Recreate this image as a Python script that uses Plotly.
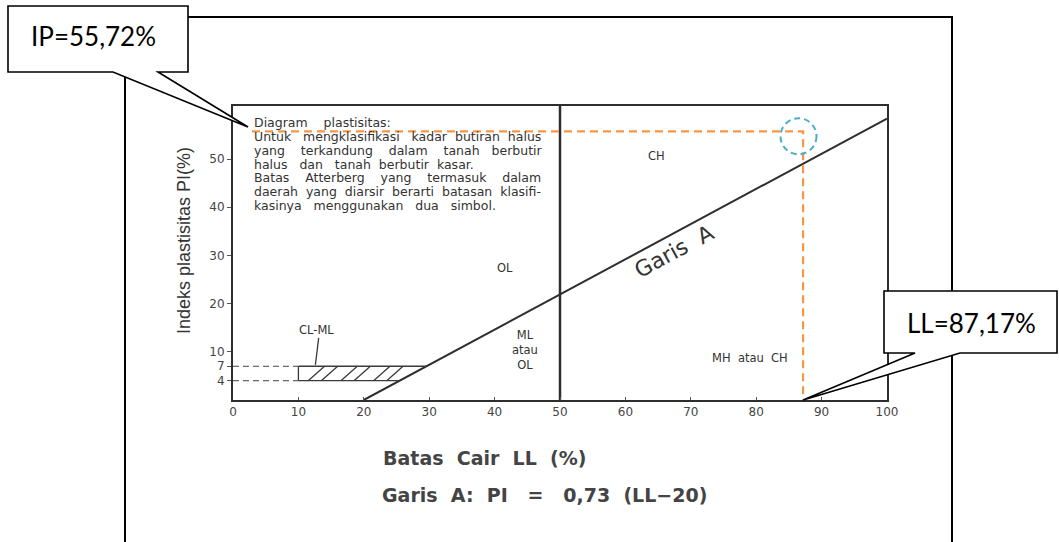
import math
import plotly.graph_objects as go

# ---- chart values -------------------------------------------------------
ll_ticks = [0, 10, 20, 30, 40, 50, 60, 70, 80, 90, 100]
pi_ticks = [4, 7, 10, 20, 30, 40, 50]
ll_range = [0, 100]
pi_range = [0, 61]

a_slope = 0.73          # Garis A: PI = 0,73 (LL - 20)
a_origin = 20
ll_split = 50           # boundary between low and high liquid limit

ip_value = 55.72        # measured plasticity index
ll_value = 87.17        # measured liquid limit

cl_ml_pi = [4, 7]       # CL-ML band
cl_ml_ll_start = 10
hatch_ll = [11.5, 13.5, 16.5, 18.5, 21.5, 23.5]

zone_text = ["OL", "CH", "ML<br>atau<br>OL", "MH\u00a0\u00a0atau\u00a0\u00a0CH", "CL-ML"]
zone_ll = [41.6, 64.7, 44.6, 79.0, 12.8]
zone_pi = [27.4, 50.6, 10.4, 8.7, 14.5]

note_lines = [
    "Diagram plastisitas:",
    "Untuk mengklasifikasi kadar butiran halus",
    "yang terkandung dalam tanah berbutir",
    "halus dan tanah berbutir kasar.",
    "Batas Atterberg yang termasuk dalam",
    "daerah yang diarsir berarti batasan klasifi-",
    "kasinya menggunakan dua simbol.",
]
note_widths = [136, 288, 288, 223, 288, 288, 243]

# ---- page geometry ------------------------------------------------------
W, H = 1059, 542
L, R, T, B = 233, 887, 106, 400   # plot area in pixels


def px(x):
    return (x - L) / (R - L)


def py(y):
    return (B - y) / (B - T)


def a_line(ll):
    return a_slope * (ll - a_origin)


# DejaVu Sans advance widths (em) used to space the justified note text
DV = {' ': .318, 'a': .613, 'b': .635, 'c': .550, 'd': .635, 'e': .615, 'f': .352,
      'g': .635, 'h': .634, 'i': .278, 'j': .278, 'k': .579, 'l': .278, 'm': .974,
      'n': .634, 'o': .612, 'p': .635, 'r': .411, 's': .521, 't': .392, 'u': .634,
      'v': .592, 'w': .818, 'y': .592, 'z': .525, 'A': .684, 'B': .686, 'D': .770,
      'U': .732, '.': .318, ':': .337, '-': .361}


def justify(line, width, size):
    words = line.split(' ')
    gaps = len(words) - 1
    base = sum(DV.get(c, .6) for c in ''.join(words)) * size
    n_total = max(gaps, round((width - base) / (DV[' '] * size)))
    per, extra = divmod(n_total, gaps)
    out = words[0]
    for i, w in enumerate(words[1:]):
        out += '\u00a0' * (per + (1 if i < extra else 0)) + w
    return out


INK = "#333333"
FONT = "DejaVu Sans"
NOTE_SIZE = 12.5

fig = go.Figure()

# Garis A
a_ll = [a_origin, ll_range[1]]
fig.add_trace(go.Scatter(x=a_ll, y=[a_line(v) for v in a_ll], mode="lines",
                         line=dict(color="#2e2e2e", width=2), hoverinfo="skip"))
# LL = 50 divider
fig.add_trace(go.Scatter(x=[ll_split, ll_split], y=pi_range, mode="lines",
                         line=dict(color="#2e2e2e", width=2.5), hoverinfo="skip"))

# dashed guides for PI = 4 and PI = 7
gx, gy = [], []
for p in cl_ml_pi:
    gx += [0, cl_ml_ll_start, None]
    gy += [p, p, None]
fig.add_trace(go.Scatter(x=gx, y=gy, mode="lines",
                         line=dict(color="#444", width=1, dash="6px,4px"), hoverinfo="skip"))

# CL-ML hatched band
lo, hi = cl_ml_pi
ll_lo = a_origin + lo / a_slope
ll_hi = a_origin + hi / a_slope
hx = [cl_ml_ll_start, ll_lo, None, cl_ml_ll_start, ll_hi, None,
      cl_ml_ll_start, cl_ml_ll_start, None]
hy = [lo, lo, None, hi, hi, None, lo, hi, None]
for x0 in hatch_ll:
    hx += [x0, x0 + 2.5, None]
    hy += [lo, hi, None]
fig.add_trace(go.Scatter(x=hx, y=hy, mode="lines",
                         line=dict(color="#3a3a3a", width=1.3), hoverinfo="skip"))
# CL-ML pointer
fig.add_trace(go.Scatter(x=[13.1, 12.6], y=[12.9, hi + 0.3], mode="lines",
                         line=dict(color="#3a3a3a", width=1.3), hoverinfo="skip"))

# reading lines for the measured sample
fig.add_trace(go.Scatter(x=[2.9, ll_value, ll_value], y=[ip_value, ip_value, 0],
                         mode="lines",
                         line=dict(color="#F79646", width=2.2, dash="8px,5px"),
                         hoverinfo="skip"))

shapes = []
# highlight circle around the reading point
rx, ry = 18 / (R - L) * 100, 18 / (B - T) * (pi_range[1] - pi_range[0])
cx, cy = ll_value - 0.7, ip_value - 1.0
shapes.append(dict(type="circle", xref="x", yref="y",
                   x0=cx - rx, x1=cx + rx, y0=cy - ry, y1=cy + ry,
                   line=dict(color="#4BACC6", width=2, dash="6px,4px")))

# outer page frame
frame = dict(color="black", width=2)
shapes.append(dict(type="line", xref="paper", yref="paper",
                   x0=px(188), x1=px(953), y0=py(17), y1=py(17), line=frame))
shapes.append(dict(type="line", xref="paper", yref="paper",
                   x0=px(952), x1=px(952), y0=py(17), y1=py(560), line=frame))
shapes.append(dict(type="line", xref="paper", yref="paper",
                   x0=px(125), x1=px(125), y0=py(72), y1=py(560), line=frame))


def callout(x0, y0, x1, y1, g0, g1, tip):
    tx, ty = tip
    pts = [(x0, y0), (x1, y0), (x1, y1), (g1, y1), (tx, ty), (g0, y1), (x0, y1)]
    path = "M" + " L".join(f"{px(a):.5f},{py(b):.5f}" for a, b in pts) + " Z"
    return dict(type="path", xref="paper", yref="paper", path=path,
                fillcolor="white", line=dict(color="black", width=1.6), layer="above")


# data point -> pixel for callout tips
def to_px(ll, pi):
    return (L + (ll - ll_range[0]) / (ll_range[1] - ll_range[0]) * (R - L),
            B - (pi - pi_range[0]) / (pi_range[1] - pi_range[0]) * (B - T))


shapes.append(callout(8, 6, 188, 72, 113, 158, (248, 127)))
shapes.append(callout(884, 291, 1057, 353, 915, 960, to_px(ll_value, 0)))

ann = []
fmt = lambda v: f"{v:.2f}".replace(".", ",")
ann.append(dict(text=f"IP={fmt(ip_value)}%", xref="paper", yref="paper",
                x=px(29), y=py(36), xanchor="left", yanchor="middle", showarrow=False,
                font=dict(family="Lato", size=26, color="black")))
ann.append(dict(text=f"LL={fmt(ll_value)}%", xref="paper", yref="paper",
                x=px(905), y=py(323), xanchor="left", yanchor="middle", showarrow=False,
                font=dict(family="Lato", size=26, color="black")))

# zone labels
for t, x, y in zip(zone_text, zone_ll, zone_pi):
    ann.append(dict(text=t, x=x, y=y, xref="x", yref="y", showarrow=False,
                    xanchor="center", yanchor="middle",
                    font=dict(family=FONT, size=11.5, color=INK)))

# Garis A label, rotated along the line
ang = -math.degrees(math.atan(
    a_slope * (B - T) / (pi_range[1] - pi_range[0]) / ((R - L) / 100)))
ann.append(dict(text="Garis\u00a0\u00a0A", x=67.4, y=30.8, xref="x", yref="y",
                showarrow=False, textangle=ang, xanchor="center", yanchor="middle",
                font=dict(family=FONT, size=22, color=INK)))

# note text block
for i, (line, w) in enumerate(zip(note_lines, note_widths)):
    ann.append(dict(text=justify(line, w, NOTE_SIZE), xref="paper", yref="paper",
                    x=px(252), y=py(123 + 13.7 * i), xanchor="left", yanchor="middle",
                    showarrow=False, font=dict(family=FONT, size=NOTE_SIZE, color=INK)))

# axis titles and formula
ann.append(dict(text="Indeks plastisitas PI(%)", xref="paper", yref="paper",
                x=px(184), y=py(241), textangle=-90, showarrow=False,
                xanchor="center", yanchor="middle",
                font=dict(family="Liberation Sans", size=18, color=INK)))
ann.append(dict(text="Batas\u00a0\u00a0Cair\u00a0\u00a0LL\u00a0\u00a0(%)", xref="paper", yref="paper",
                x=px(381), y=py(458), xanchor="left", yanchor="middle", showarrow=False,
                font=dict(family=FONT, size=19, color="#444444", weight="bold")))
ann.append(dict(text="Garis\u00a0\u00a0A:\u00a0\u00a0PI\u00a0\u00a0\u00a0=\u00a0\u00a0\u00a00,73\u00a0\u00a0(LL\u221220)",
                xref="paper", yref="paper", x=px(380), y=py(495), xanchor="left",
                yanchor="middle", showarrow=False,
                font=dict(family=FONT, size=19, color="#444444", weight="bold")))

axis_common = dict(showgrid=False, zeroline=False, showline=True, mirror=True,
                   linecolor="#2e2e2e", linewidth=2,
                   tickfont=dict(family=FONT, size=12, color="#444"))

fig.update_layout(
    width=W, height=H,
    margin=dict(l=L, r=W - R, t=T, b=H - B),
    paper_bgcolor="white", plot_bgcolor="white",
    showlegend=False,
    shapes=shapes, annotations=ann,
    xaxis=dict(range=ll_range, tickvals=ll_ticks, ticks="inside", ticklen=3,
               tickcolor="#555", **axis_common),
    yaxis=dict(range=pi_range, tickvals=pi_ticks, ticks="outside", ticklen=4,
               tickcolor="#555", **axis_common),
)

fig.write_html("out.html")
